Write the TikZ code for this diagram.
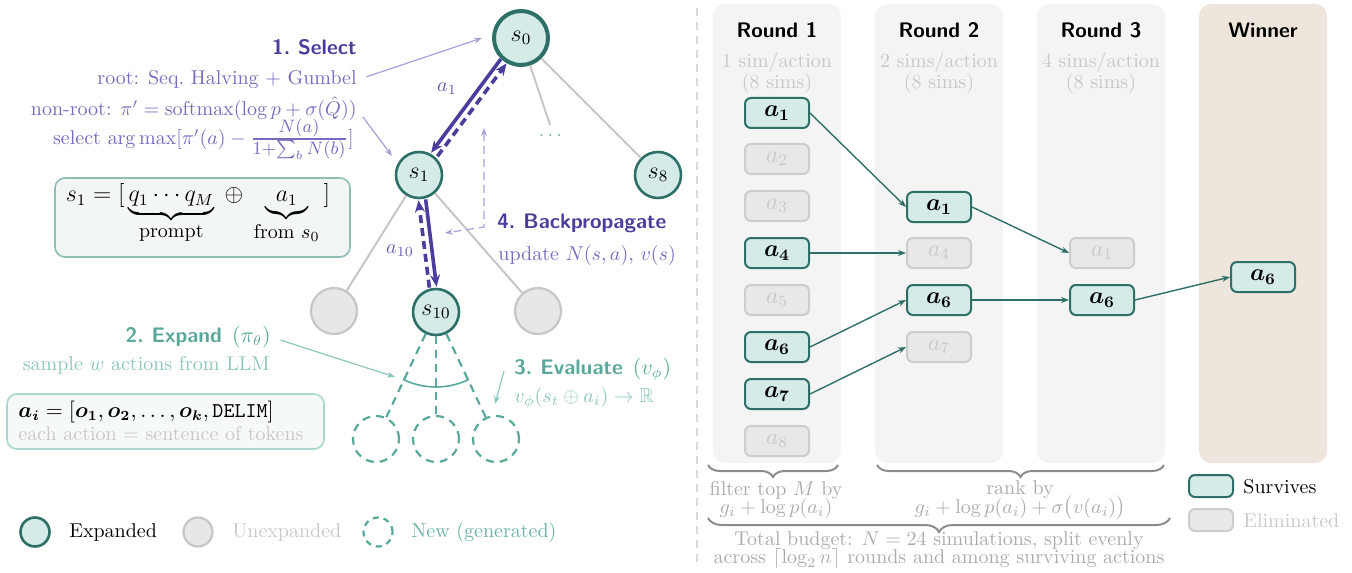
\documentclass[tikz,border=0pt]{standalone}
\usepackage{amsmath,amssymb}
\usetikzlibrary{calc,arrows.meta,decorations.pathreplacing}
\definecolor{tealD}{HTML}{2E6F67}
\definecolor{tealF}{HTML}{D5EBE8}
\definecolor{tealM}{HTML}{5AA89B}
\definecolor{tealL}{HTML}{8CC6BD}
\definecolor{tealDots}{HTML}{7FB3AB}
\definecolor{purD}{HTML}{4A3E9C}
\definecolor{purM}{HTML}{746CC0}
\definecolor{purL}{HTML}{A7A1D8}
\definecolor{grayLn}{HTML}{C6C6C6}
\definecolor{grayFl}{HTML}{E6E7E9}
\definecolor{grayTx}{HTML}{C8C8C8}
\definecolor{grayTx2}{HTML}{ABABAB}
\definecolor{colBg}{HTML}{F4F4F4}
\definecolor{winBg}{HTML}{EEE6DC}
\definecolor{boxFl}{HTML}{F2F7F6}
\definecolor{boxFlB}{HTML}{F5FAF9}
\definecolor{boxDr}{HTML}{8EBFB7}
\definecolor{boxDrB}{HTML}{A9D6CF}
\definecolor{sepC}{HTML}{DADADA}
\definecolor{braceC}{HTML}{8C8C8C}
\definecolor{elimDr}{HTML}{CDCDCD}
\definecolor{elimFl}{HTML}{E8E8EA}
\begin{document}
\begin{tikzpicture}[x=0.5pt,y=-0.5pt,
  every node/.style={inner sep=0pt},
  font=\fontsize{10}{12}\selectfont,
  head/.style={font=\fontsize{10.5}{12.5}\selectfont\sffamily\bfseries},
  rootn/.style={circle,draw=tealD,fill=tealF,line width=2pt,minimum size=27pt,font=\large},
  expn/.style={circle,draw=tealD,fill=tealF,line width=1.3pt,minimum size=23pt,font=\large},
  unexp/.style={circle,draw=grayLn,fill=grayFl,line width=1.1pt,minimum size=23pt},
  newn/.style={circle,draw=tealM,dash pattern=on 4pt off 3pt,line width=1.1pt,minimum size=23pt},
  grayedge/.style={draw=grayLn,line width=1pt},
  newedge/.style={draw=tealM,dash pattern=on 4pt off 3pt,line width=1.1pt},
  selA/.style={draw=purD,line width=1.8pt,-{Stealth[length=6pt,width=5pt]}},
  backA/.style={draw=purD,line width=1.8pt,dash pattern=on 4pt off 2.5pt,-{Stealth[length=6pt,width=5pt]}},
  thinP/.style={draw=purL,line width=0.6pt,-{Stealth[length=4pt,width=3pt]}},
  thinT/.style={draw=tealL,line width=0.6pt,-{Stealth[length=4pt,width=3pt]}},
  surv/.style={rectangle,rounded corners=3pt,draw=tealD,fill=tealF,line width=1pt,minimum width=32pt,minimum height=15pt,font=\large},
  elim/.style={rectangle,rounded corners=3pt,draw=elimDr,fill=elimFl,line width=1pt,minimum width=32pt,minimum height=15pt,font=\large,text=grayTx},
  flow/.style={draw=tealD,line width=0.7pt,-{Stealth[length=4pt,width=3pt]}},
  bracestyle/.style={draw=braceC,line width=1pt,decorate},
]
\useasboundingbox (0,0) rectangle (1352,572);

% ---------------- right: column backgrounds ----------------
\fill[colBg,rounded corners=6pt] (713,4) rectangle (841,463);
\fill[colBg,rounded corners=6pt] (875,4) rectangle (1003,463);
\fill[colBg,rounded corners=6pt] (1037,4) rectangle (1165,463);
\fill[winBg,rounded corners=6pt] (1199,4) rectangle (1327,463);
\draw[sepC,line width=1pt,dash pattern=on 4pt off 3pt] (697,8) -- (697,565);

% ---------------- left: tree ----------------
\node[rootn] (s0) at (521,38) {$s_0$};
\node[expn] (s1) at (419,175) {$s_1$};
\node[expn] (s8) at (658,175) {$s_8$};
\node[text=tealDots] (dots) at (552,136) {$\cdots$};
\coordinate (dotsTop) at (550,125);
\node[unexp] (u1) at (334,311) {};
\node[expn] (s10) at (436,312) {$s_{10}$};
\node[unexp] (u2) at (538,311) {};
\node[newn] (n1) at (376,439) {};
\node[newn] (n2) at (436,439) {};
\node[newn] (n3) at (496,439) {};

\draw[grayedge] (s0) -- (dotsTop);
\draw[grayedge] (s0) -- (s8);
\draw[grayedge] (s1) -- (u1);
\draw[grayedge] (s1) -- (u2);
\draw[newedge] (s10) -- (n1);
\draw[newedge] (s10) -- (n2);
\draw[newedge] (s10) -- (n3);
\draw[tealM,line width=0.8pt] ($(s10.center)+(63.8:75)$) arc[start angle=63.8,end angle=116.2,radius=75];

% selection / backprop arrows
\coordinate (A0) at ($(s0.center)!1.8pt!-90:(s1.center)$);
\coordinate (A1) at ($(s1.center)!1.8pt!90:(s0.center)$);
\draw[selA,shorten <=14.5pt,shorten >=12.5pt] (A0) -- (A1);
\coordinate (B1) at ($(s1.center)!1.8pt!-90:(s0.center)$);
\coordinate (B0) at ($(s0.center)!1.8pt!90:(s1.center)$);
\draw[backA,shorten <=13pt,shorten >=14.5pt] (B1) -- (B0);
\coordinate (C1) at ($(s1.center)!1.8pt!90:(s10.center)$);
\coordinate (C2) at ($(s10.center)!1.8pt!-90:(s1.center)$);
\draw[selA,shorten <=12.5pt,shorten >=12.5pt] (C1) -- (C2);
\coordinate (D2) at ($(s10.center)!1.8pt!90:(s1.center)$);
\coordinate (D1) at ($(s1.center)!1.8pt!-90:(s10.center)$);
\draw[backA,shorten <=12.5pt,shorten >=12.5pt] (D2) -- (D1);

\node[text=purD!85] (la1) at (447,89) {$a_1$};
\node[text=purD!85] (la10) at (400,251) {$a_{10}$};

% backprop thin dashed
\coordinate (bpTop) at (484,128);
\coordinate (bpCorner) at (484,227);
\coordinate (bpEnd) at (445,233);
\draw[draw=purL,line width=0.6pt,dash pattern=on 4pt off 2.5pt,{Stealth[length=4pt,width=3pt]}-{Stealth[length=4pt,width=3pt]}] (bpTop) -- (bpCorner) -- (bpEnd);

% ---------------- left: texts ----------------
\node[head,text=purD,anchor=east] (selH) at (357,47) {1.\hspace{4pt}Select};
\node[text=purM,anchor=east] (rootTxt) at (357,80) {root: Seq.\ Halving + Gumbel};
\node[text=purM,anchor=east] (nonrootTxt) at (357,109) {non-root: $\pi' = \mathrm{softmax}(\log p + \sigma(\hat{Q}))$};
\node[text=purM,anchor=base east] (argTxt) at (354,145) {select $\arg\max[\pi'(a) - \text{\fontsize{13}{15}\selectfont$\frac{N(a)}{1+\sum_b N(b)}$}]$};
\coordinate (selEnd1) at (482,38);
\coordinate (selEnd2) at (392,156);
\draw[thinP,shorten <=5pt] (rootTxt.east) -- (selEnd1);
\draw[thinP,shorten <=5pt] (nonrootTxt.east) -- (selEnd2);

\node[draw=boxDr,fill=boxFl,rounded corners=5pt,line width=0.8pt,minimum width=147.5pt,minimum height=39.5pt] (s1box) at (202.5,217.5) {};
\node (s1form) at (198,214) {\large $s_1 = [\,\underbrace{q_1 \cdots q_M}_{\text{\normalsize prompt}} \;\oplus\; \underbrace{a_1}_{\text{\normalsize from $s_0$}}\,]$};

\node[head,text=purD,anchor=west] (bpH) at (497,223) {4.\hspace{4pt}Backpropagate};
\node[text=purM,anchor=west] (bpTxt) at (498,255) {update $N(s,a)$, $v(s)$};

\node[head,text=tealM,anchor=east] (expH) at (271,337) {2.\hspace{4pt}Expand\hspace{5pt}$(\pi_\theta)$};
\node[text=tealL,anchor=east] (expTxt) at (270,365) {sample $w$ actions from LLM};
\coordinate (expEnd) at (395,377);
\draw[thinT,shorten <=5pt] (expH.east) -- (expEnd);

\node[draw=boxDrB,fill=boxFlB,rounded corners=5pt,line width=0.8pt,minimum width=158.5pt,minimum height=27.5pt] (aibox) at (165.5,421.5) {};
\node[anchor=west,font=\fontsize{10.5}{12}\selectfont] (aiTxt) at (18,412) {$\boldsymbol{a_i} = [\boldsymbol{o_1}, \boldsymbol{o_2}, \ldots, \boldsymbol{o_k}, \texttt{DELIM}]$};
\node[anchor=west,text=grayTx] (aiSub) at (18,434) {each action = sentence of tokens};

\node[head,text=tealM,anchor=west] (evH) at (514,369) {3.\hspace{4pt}Evaluate\hspace{5pt}$(v_\phi)$};
\node[text=tealL,anchor=west] (evTxt) at (514,398) {$v_\phi(s_t \oplus a_i) \rightarrow \mathbb{R}$};
\coordinate (evStart) at (504,371);
\coordinate (evEnd) at (495,404);
\draw[thinT] (evStart) -- (evEnd);

% legend left
\node[expn,minimum size=14.5pt] (lgE) at (35,532) {};
\node[anchor=west] (lgEt) at (69,532) {Expanded};
\node[unexp,minimum size=14.5pt] (lgU) at (198,532) {};
\node[anchor=west,text=grayTx] (lgUt) at (232,532) {Unexpanded};
\node[newn,minimum size=14.5pt,dash pattern=on 3pt off 2.5pt] (lgN) at (378,532) {};
\node[anchor=west,text=tealM!90] (lgNt) at (411,532) {New (generated)};

% ---------------- right: rounds ----------------
\node[head] (h1) at (777,30) {Round 1};
\node[head] (h2) at (939,30) {Round 2};
\node[head] (h3) at (1101,30) {Round 3};
\node[head] (h4) at (1263,30) {Winner};
\node[text=grayTx] (t1a) at (777,63) {1 sim/action};
\node[text=grayTx] (t1b) at (777,84) {(8 sims)};
\node[text=grayTx] (t2a) at (939,63) {2 sims/action};
\node[text=grayTx] (t2b) at (939,84) {(8 sims)};
\node[text=grayTx] (t3a) at (1101,63) {4 sims/action};
\node[text=grayTx] (t3b) at (1101,84) {(8 sims)};

\node[surv] (r1a1) at (777,113) {$\boldsymbol{a_1}$};
\node[elim] (r1a2) at (777,159) {$a_2$};
\node[elim] (r1a3) at (777,206) {$a_3$};
\node[surv] (r1a4) at (777,253) {$\boldsymbol{a_4}$};
\node[elim] (r1a5) at (777,300) {$a_5$};
\node[surv] (r1a6) at (777,347) {$\boldsymbol{a_6}$};
\node[surv] (r1a7) at (777,394) {$\boldsymbol{a_7}$};
\node[elim] (r1a8) at (777,441) {$a_8$};

\node[surv] (r2a1) at (939,207) {$\boldsymbol{a_1}$};
\node[elim] (r2a4) at (939,253) {$a_4$};
\node[surv] (r2a6) at (939,300) {$\boldsymbol{a_6}$};
\node[elim] (r2a7) at (939,347) {$a_7$};

\node[elim] (r3a1) at (1102,253) {$a_1$};
\node[surv] (r3a6) at (1102,300) {$\boldsymbol{a_6}$};

\node[surv] (wa6) at (1263,277) {$\boldsymbol{a_6}$};

\draw[flow] (r1a1.east) -- (r2a1.west);
\draw[flow] (r1a4.east) -- (r2a4.west);
\draw[flow] (r1a6.east) -- (r2a6.west);
\draw[flow] (r1a7.east) -- (r2a7.west);
\draw[flow] (r2a1.east) -- (r3a1.west);
\draw[flow] (r2a6.east) -- (r3a6.west);
\draw[flow] (r3a6.east) -- (wa6.west);

% braces
\draw[bracestyle,decoration={brace,mirror,amplitude=6pt}] (708,465) -- (838,465);
\draw[bracestyle,decoration={brace,mirror,amplitude=6pt}] (877,465) -- (1164,465);
\draw[bracestyle,decoration={brace,mirror,amplitude=7pt}] (708,518) -- (1170,518);

\node[text=grayTx2] (f1) at (776,490) {filter top $M$ by};
\node[text=grayTx2] (f2) at (776,508) {$g_i + \log p(a_i)$};
\node[text=grayTx2] (k1) at (1020,490) {rank by};
\node[text=grayTx2] (k2) at (1020,508) {$g_i + \log p(a_i) + \sigma\bigl(v(a_i)\bigr)$};
\node[text=grayTx2] (tb1) at (939,541) {Total budget: $N = 24$ simulations, split evenly};
\node[text=grayTx2] (tb2) at (939,558) {across $\lceil \log_2 n \rceil$ rounds and among surviving actions};

% legend right
\node[surv,minimum width=22pt,minimum height=11pt] (lgS) at (1211,486) {};
\node[anchor=west] (lgSt) at (1243,487) {Survives};
\node[elim,minimum width=22pt,minimum height=11pt] (lgX) at (1211,520) {};
\node[anchor=west,text=grayTx] (lgXt) at (1243,521) {Eliminated};
\end{tikzpicture}
\end{document}
